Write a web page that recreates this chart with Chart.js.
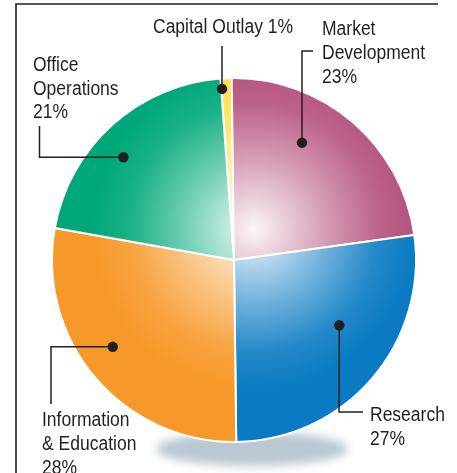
<!DOCTYPE html>
<html>
<head>
<meta charset="utf-8">
<script src="https://cdn.jsdelivr.net/npm/chart.js@4.4.1/dist/chart.umd.min.js"></script>
<style>
  html, body { margin: 0; padding: 0; background: #fff; }
  #wrap { width: 457px; height: 473px; }
</style>
</head>
<body>
<div id="wrap"><canvas id="c" width="457" height="473"></canvas></div>
<script>
// ---- data ----
const categories = ['Capital Outlay', 'Market Development', 'Research', 'Information & Education', 'Office Operations'];
const shares = [1, 23, 27, 28, 21];
const baseColors = ['#FFE04A', '#B5527D', '#0A7BC2', '#F7992A', '#00A879'];
const labelLines = [
  ['Capital Outlay 1%'],
  ['Market', 'Development', '23%'],
  ['Research', '27%'],
  ['Information', '& Education', '28%'],
  ['Office', 'Operations', '21%']
];

// ---- annotation layout (dot in polar coords from pie centre, leader path, text position) ----
const annot = [
  { ang: -4.0,  rf: 0.937, path: [[222, 46]],              tx: 153, ty: 33,  lh: 24 },
  { ang: 30.1,  rf: 0.741, path: [[302, 51], [313, 51]],   tx: 322, ty: 35,  lh: 24 },
  { ang: 121.8, rf: 0.677, path: [[339, 412], [363, 412]], tx: 370, ty: 421, lh: 24 },
  { ang: 234.4, rf: 0.815, path: [[51, 346.7], [51, 404]], tx: 42,  ty: 426, lh: 24 },
  { ang: 312.9, rf: 0.825, path: [[39.5, 157.3], [39.5, 126]], tx: 33, ty: 71, lh: 23.5 }
];

const FONT = '20px "Liberation Sans", Arial, sans-serif';
const SQUEEZE = 0.875;
const INK = '#231F20';

function mix(hex, t) { // t = amount of white
  const n = parseInt(hex.slice(1), 16);
  const r = (n >> 16) & 255, g = (n >> 8) & 255, b = n & 255;
  const m = c => Math.round(c + (255 - c) * t);
  return 'rgb(' + m(r) + ',' + m(g) + ',' + m(b) + ')';
}

function pieGeom(chart) {
  const a = chart.chartArea;
  return { cx: (a.left + a.right) / 2, cy: (a.top + a.bottom) / 2, R: Math.min(a.right - a.left, a.bottom - a.top) / 2 };
}

function gradFill(ctx) {
  const chart = ctx.chart;
  const base = baseColors[ctx.dataIndex];
  if (!chart.chartArea) return base;
  const { cx, cy, R } = pieGeom(chart);
  const hx = cx + 0.11 * R, hy = cy - 0.17 * R;
  const g = chart.ctx.createRadialGradient(hx, hy, 0, hx, hy, R * 1.0);
  g.addColorStop(0, mix(base, 0.95));
  g.addColorStop(0.12, mix(base, 0.78));
  g.addColorStop(0.4, mix(base, 0.42));
  g.addColorStop(0.68, mix(base, 0.1));
  g.addColorStop(0.88, base);
  g.addColorStop(1, base);
  return g;
}

const decor = {
  id: 'decor',
  beforeDatasetsDraw(chart) {
    const c = chart.ctx;
    const { cx, cy, R } = pieGeom(chart);
    c.save();
    c.filter = 'blur(5px)';
    c.fillStyle = '#B9C8D3';
    c.beginPath();
    c.ellipse(cx + 18, cy + R + 6, 96, 17, 0, 0, Math.PI * 2);
    c.fill();
    c.restore();
  },
  afterDraw(chart) {
    const c = chart.ctx;
    const { cx, cy, R } = pieGeom(chart);
    c.save();
    // frame
    c.strokeStyle = INK;
    c.lineWidth = 1.6;
    c.beginPath();
    c.moveTo(438, 4); c.lineTo(16, 4); c.lineTo(16, 473);
    c.stroke();
    // leaders, dots, text
    c.lineWidth = 1.5;
    c.fillStyle = INK;
    c.font = FONT;
    c.textBaseline = 'alphabetic';
    annot.forEach((a, i) => {
      const th = a.ang * Math.PI / 180;
      const dx = cx + Math.sin(th) * R * a.rf;
      const dy = cy - Math.cos(th) * R * a.rf;
      c.beginPath();
      c.moveTo(dx, dy);
      a.path.forEach(p => c.lineTo(p[0], p[1]));
      c.stroke();
      c.beginPath();
      c.arc(dx, dy, 5.2, 0, Math.PI * 2);
      c.fill();
      labelLines[i].forEach((t, k) => {
        c.save();
        c.translate(a.tx, a.ty + k * a.lh);
        c.scale(SQUEEZE, 1);
        c.fillText(t, 0, 0);
        c.restore();
      });
    });
    c.restore();
  }
};

new Chart(document.getElementById('c'), {
  type: 'pie',
  data: {
    labels: categories,
    datasets: [{
      data: shares,
      backgroundColor: gradFill,
      borderColor: '#ffffff',
      borderWidth: 2
    }]
  },
  options: {
    responsive: false,
    devicePixelRatio: 1,
    animation: false,
    rotation: -4.3,
    layout: { padding: { left: 51, right: 40, top: 77, bottom: 30 } },
    plugins: { legend: { display: false }, tooltip: { enabled: false } }
  },
  plugins: [decor]
});
</script>
</body>
</html>
